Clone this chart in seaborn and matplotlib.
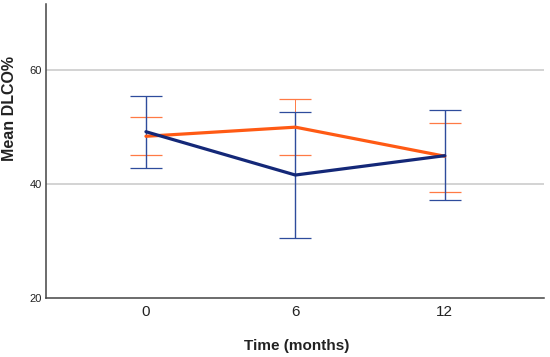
import matplotlib
matplotlib.use("Agg")
import matplotlib.pyplot as plt
import seaborn as sns
import pandas as pd
import numpy as np

times = ["0", "6", "12"]
group_a_mean = [48.4, 50.0, 44.9]      # orange
group_a_low = [45.1, 45.1, 38.7]
group_a_high = [51.8, 54.9, 50.8]
group_b_mean = [49.2, 41.6, 45.0]      # navy
group_b_low = [42.9, 30.5, 37.2]
group_b_high = [55.4, 52.6, 53.0]

sns.set_theme(style="white")
plt.rcParams['font.family'] = ['Liberation Sans', 'DejaVu Sans']

fig = plt.figure(figsize=(5.5, 3.57), dpi=100)
ax = fig.add_axes([0.0836, 0.165, 0.905, 0.8235])

pos = np.arange(len(times))
df = pd.DataFrame({
    "pos": np.concatenate([pos, pos]),
    "mean": group_a_mean + group_b_mean,
    "group": ["A"] * 3 + ["B"] * 3,
})

orange = "#FF5A14"
navy = "#142878"
orange_err = "#FF7A45"
navy_err = "#2E4C9C"

for g, ecol, lo, hi, mn, z, lw in [("A", orange_err, group_a_low, group_a_high, group_a_mean, 2, 0.7),
                                    ("B", navy_err, group_b_low, group_b_high, group_b_mean, 2.5, 1.0)]:
    mn_arr = np.array(mn)
    ax.errorbar(pos, mn_arr, yerr=[mn_arr - np.array(lo), np.array(hi) - mn_arr],
                fmt="none", ecolor=ecol, elinewidth=lw, capsize=11.5, capthick=0.9, zorder=z)

for g, col in [("A", orange), ("B", navy)]:
    sub = df[df.group == g]
    sns.lineplot(data=sub, x="pos", y="mean", ax=ax, color=col, linewidth=2.3, zorder=3,
                 legend=False)

ax.set_xlim(-0.669, 2.662)
ax.set_ylim(20, 71.6)
ax.set_yticks([20, 40, 60])
ax.set_xticks(pos)
ax.set_xticklabels(times, fontsize=11, color="#222222")
ax.tick_params(axis="y", labelsize=8, colors="#222222", length=0, pad=3)
ax.tick_params(axis="x", length=0, pad=5)
for y in [40, 60]:
    ax.axhline(y, color="#c8c8c8", linewidth=1.1, zorder=1)

for s in ["top", "right"]:
    ax.spines[s].set_visible(False)
for s in ["left", "bottom"]:
    ax.spines[s].set_color("#444444")
    ax.spines[s].set_linewidth(1.1)

ax.set_xlabel("Time (months)", fontsize=11, fontweight="bold", color="#222222")
ax.set_ylabel("Mean DLCO%", fontsize=11.5, fontweight="bold", color="#222222")
ax.yaxis.set_label_coords(-0.058, 0.646)
ax.xaxis.set_label_coords(0.503, -0.14)

fig.savefig("out.png", dpi=100)
